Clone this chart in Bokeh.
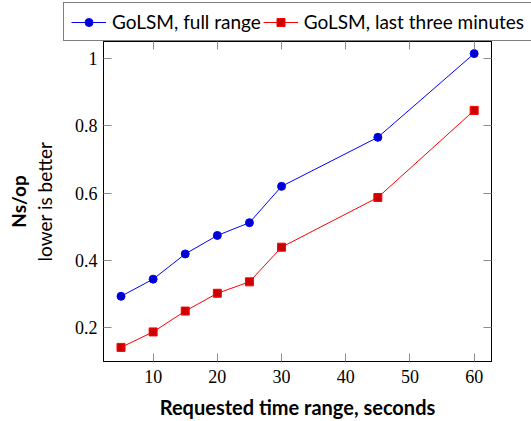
from bokeh.plotting import figure
from bokeh.layouts import column
from bokeh.models import (Legend, LegendItem, LinearAxis, FixedTicker,
                          CustomJSTickFormatter, Range1d, Title)
from bokeh.embed import file_html
from bokeh.resources import INLINE

# Benchmark results: cost per operation against the requested time range
seconds = [5, 10, 15, 20, 25, 30, 45, 60]
full_range = [0.293, 0.344, 0.419, 0.474, 0.512, 0.620, 0.766, 1.015]
last_three_minutes = [0.141, 0.187, 0.249, 0.302, 0.336, 0.439, 0.587, 0.846]
x_ticks = [10, 20, 30, 40, 50, 60]
y_ticks = [0.2, 0.4, 0.6, 0.8, 1.0]
series_names = ["GoLSM, full range", "GoLSM, last three minutes"]

SERIF = "Liberation Serif"
SANS = "Lato"
TICK_GREY = "#8c8c8c"
BLANK = "return ''"
BLUE_LINE, BLUE_FILL = "#0000ff", "#0000cc"
RED_LINE, RED_FILL = "#ff0000", "#cc0000"

p = figure(width=531, height=380, output_backend="svg", toolbar_location=None,
           x_range=Range1d(2.27, 62.7), y_range=Range1d(0.099, 1.051),
           min_border_left=103, min_border_right=40,
           min_border_top=0, min_border_bottom=60)
p.frame_align = False
p.grid.visible = False
p.outline_line_color = "black"
p.outline_line_width = 1
p.background_fill_color = "white"
p.border_fill_color = "white"


def tick_style(ax):
    ax.major_tick_in = 8
    ax.major_tick_out = 0
    ax.minor_tick_line_color = None
    ax.major_tick_line_color = TICK_GREY
    ax.axis_line_color = "black"
    ax.major_label_text_font = SERIF
    ax.major_label_text_font_size = "18px"
    ax.major_label_text_color = "black"


xa = p.xaxis[0]
xa.ticker = FixedTicker(ticks=x_ticks)
ya = p.yaxis[0]
ya.ticker = FixedTicker(ticks=y_ticks)
tick_style(xa)
tick_style(ya)
xa.major_label_standoff = 8
ya.major_label_standoff = 6
ya.formatter = CustomJSTickFormatter(code="return tick.toFixed(1).replace(/\\.0$/, '')")

xa.axis_label = "Requested time range, seconds"
xa.axis_label_text_font = SANS
xa.axis_label_text_font_style = "bold"
xa.axis_label_text_font_size = "20px"
xa.axis_label_text_color = "black"
xa.axis_label_standoff = 9

# y-axis title: second line as the axis label, bold first line as a side title
ya.axis_label = "lower is better"
ya.axis_label_text_font = SANS
ya.axis_label_text_font_size = "19px"
ya.axis_label_text_font_style = "normal"
ya.axis_label_text_color = "black"
ya.axis_label_standoff = 16

p.add_layout(Title(text="Ns/op", align="center", text_font=SANS,
                   text_font_style="bold", text_font_size="19px",
                   text_color="black", standoff=0, offset=0), "left")

# mirrored ticks on the top and right edges
right = LinearAxis(ticker=FixedTicker(ticks=y_ticks),
                   formatter=CustomJSTickFormatter(code=BLANK))
top = LinearAxis(ticker=FixedTicker(ticks=x_ticks),
                 formatter=CustomJSTickFormatter(code=BLANK))
for ax in (right, top):
    tick_style(ax)
    ax.major_label_standoff = 0
    ax.major_label_text_font_size = "1px"
p.add_layout(right, "right")
p.add_layout(top, "above")


def draw_series(fig, ys, marker, line_color, fill_color):
    ln = fig.line(seconds, ys, line_color=line_color, line_width=1)
    mk = fig.scatter(seconds, ys, marker=marker, size=8,
                     fill_color=fill_color, line_color=line_color, line_width=1)
    return ln, mk


draw_series(p, full_range, "circle", BLUE_LINE, BLUE_FILL)
draw_series(p, last_three_minutes, "square", RED_LINE, RED_FILL)

# legend strip above the plot; it is wider than the plot area, so it lives in
# its own figure whose (off-range) renderers only supply the legend glyphs
leg = figure(width=531, height=41, output_backend="svg", toolbar_location=None,
             x_axis_type=None, y_axis_type=None, min_border=0,
             x_range=Range1d(0, 1), y_range=Range1d(0, 1))
leg.frame_align = False
leg.outline_line_color = None
leg.grid.visible = False
k1 = draw_series(leg, full_range, "circle", BLUE_LINE, BLUE_FILL)
k2 = draw_series(leg, last_three_minutes, "square", RED_LINE, RED_FILL)

legend = Legend(items=[
    LegendItem(label=series_names[0], renderers=list(k1)),
    LegendItem(label=series_names[1], renderers=list(k2)),
], orientation="horizontal", location=(63, 0))
legend.label_text_font = SANS
legend.label_text_font_size = "19px"
legend.label_text_color = "black"
legend.glyph_width = 35
legend.glyph_height = 20
legend.label_standoff = 6
legend.spacing = 2
legend.padding = 7
legend.margin = 0
legend.border_line_color = "black"
legend.border_line_width = 1
legend.background_fill_color = "white"
legend.background_fill_alpha = 1
leg.add_layout(legend, "center")

open("out.html", "w").write(file_html(column(leg, p, spacing=0), INLINE))
